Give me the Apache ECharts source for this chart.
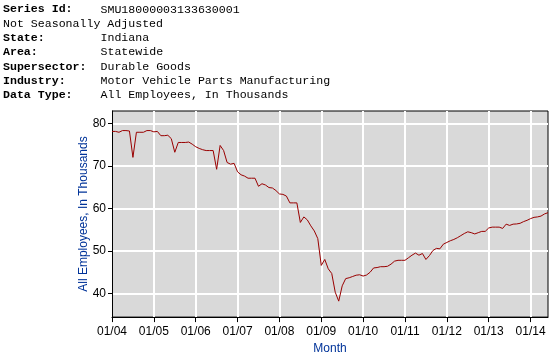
<!DOCTYPE html>
<html>
<head>
<meta charset="utf-8">
<script src="https://cdn.jsdelivr.net/npm/echarts@6/dist/echarts.min.js"></script>
<style>
html,body{margin:0;padding:0;background:#fff;}
#c{width:558px;height:360px;}
</style>
</head>
<body>
<div id="c"></div>
<script>
// ---- header text ----
var headerLabels = ['Series Id:', '', 'State:', 'Area:', 'Supersector:', 'Industry:', 'Data Type:'];
var headerValues = ['SMU18000003133630001', 'Not Seasonally Adjusted', 'Indiana', 'Statewide', 'Durable Goods', 'Motor Vehicle Parts Manufacturing', 'All Employees, In Thousands'];

// ---- data: monthly values, Jan 2004 .. Jun 2014 ----
var v2004 = [78.1, 78.1, 77.9, 78.3, 78.3, 78.2, 72.0, 77.9, 77.9, 77.9, 78.3, 78.3];
var v2005 = [78.0, 78.1, 77.1, 77.1, 77.2, 76.4, 73.2, 75.5, 75.5, 75.5, 75.6, 75.1];
var v2006 = [74.5, 74.1, 73.8, 73.6, 73.6, 73.6, 69.2, 74.8, 73.6, 70.8, 70.4, 70.6];
var v2007 = [68.6, 67.9, 67.6, 67.1, 67.1, 67.1, 65.2, 65.8, 65.5, 64.9, 64.8, 64.2];
var v2008 = [63.4, 63.3, 62.9, 61.3, 61.3, 61.3, 56.7, 58.0, 57.3, 55.9, 54.7, 52.9];
var v2009 = [46.6, 48.0, 45.8, 44.7, 40.3, 38.2, 41.8, 43.5, 43.7, 44.0, 44.3, 44.4];
var v2010 = [44.1, 44.35, 45.0, 46.0, 46.1, 46.3, 46.3, 46.4, 46.9, 47.6, 47.8, 47.8];
var v2011 = [47.8, 48.4, 49.0, 49.5, 49.0, 49.4, 48.0, 48.9, 50.1, 50.6, 50.5, 51.6];
var v2012 = [52.0, 52.4, 52.7, 53.1, 53.6, 54.1, 54.5, 54.3, 54.0, 54.3, 54.6, 54.6];
var v2013 = [55.4, 55.6, 55.6, 55.6, 55.3, 56.3, 56.0, 56.3, 56.35, 56.5, 56.9, 57.2];
var v2014 = [57.6, 57.9, 58.0, 58.2, 58.7, 59.0];

var years = [2004, 2005, 2006, 2007, 2008, 2009, 2010, 2011, 2012, 2013, 2014];
var yearValues = [v2004, v2005, v2006, v2007, v2008, v2009, v2010, v2011, v2012, v2013, v2014];

var yTicks = [40, 50, 60, 70, 80];
var yMin = 34.45, yMax = 82.9;

// build category list (MM/YY) and values
var categories = [], values = [];
years.forEach(function (y, k) {
  yearValues[k].forEach(function (v, m) {
    var mm = (m + 1 < 10 ? '0' : '') + (m + 1);
    var yy = String(y).slice(2);
    categories.push(mm + '/' + yy);
    values.push(v);
  });
});

var isJan = function (idx) { return idx % 12 === 0; };

var graphics = [];
var monoFont = '"Liberation Mono", "Courier New", monospace';
for (var i = 0; i < headerValues.length; i++) {
  var yPos = 10.5 + i * 14.3;
  if (headerLabels[i]) {
    graphics.push({ type: 'text', left: 3, top: yPos - 7,
      style: { text: headerLabels[i], font: 'bold 11.6px ' + monoFont, fill: '#000' } });
    graphics.push({ type: 'text', left: 100.5, top: yPos - 7,
      style: { text: headerValues[i], font: '11.6px ' + monoFont, fill: '#000' } });
  } else {
    graphics.push({ type: 'text', left: 3, top: yPos - 7,
      style: { text: headerValues[i], font: '11.6px ' + monoFont, fill: '#000' } });
  }
}

var chart = echarts.init(document.getElementById('c'), null, { renderer: 'canvas' });
var axisFont = '"Liberation Sans", Arial, sans-serif';
chart.setOption({
  animation: false,
  graphic: graphics,
  grid: { left: 112, top: 111, right: 10, bottom: 42, show: true,
          backgroundColor: '#d9d9d9', borderColor: '#000', borderWidth: 1 },
  xAxis: {
    type: 'category',
    data: categories,
    boundaryGap: false,
    name: 'Month',
    nameLocation: 'middle',
    nameGap: 23,
    nameTextStyle: { color: '#003399', fontSize: 12, fontFamily: axisFont },
    axisLine: { lineStyle: { color: '#000', width: 1 } },
    axisTick: { interval: function (idx) { return isJan(idx); }, length: 5, lineStyle: { color: '#000' } },
    axisLabel: { interval: function (idx) { return isJan(idx); }, color: '#000', fontSize: 12,
                 fontFamily: axisFont, margin: 9 },
    splitLine: { show: true, interval: function (idx) { return isJan(idx); },
                 lineStyle: { color: '#fff', width: 2 } }
  },
  yAxis: {
    type: 'value',
    min: yMin, max: yMax,
    name: 'All Employees, In Thousands',
    nameLocation: 'middle',
    nameGap: 22,
    nameMoveOverlap: false,
    nameTextStyle: { color: '#003399', fontSize: 12, fontFamily: axisFont },
    axisLine: { show: true, lineStyle: { color: '#000', width: 1 } },
    axisTick: { show: true, length: 4, customValues: yTicks, lineStyle: { color: '#000' } },
    axisLabel: { color: '#000', fontSize: 12, fontFamily: axisFont, margin: 6,
                 customValues: yTicks },
    splitLine: { show: true, lineStyle: { color: '#fff', width: 2 } }
  },
  series: [{
    type: 'line',
    data: values,
    symbol: 'none',
    lineStyle: { color: '#990000', width: 1 },
    itemStyle: { color: '#990000' }
  }]
});
</script>
</body>
</html>
